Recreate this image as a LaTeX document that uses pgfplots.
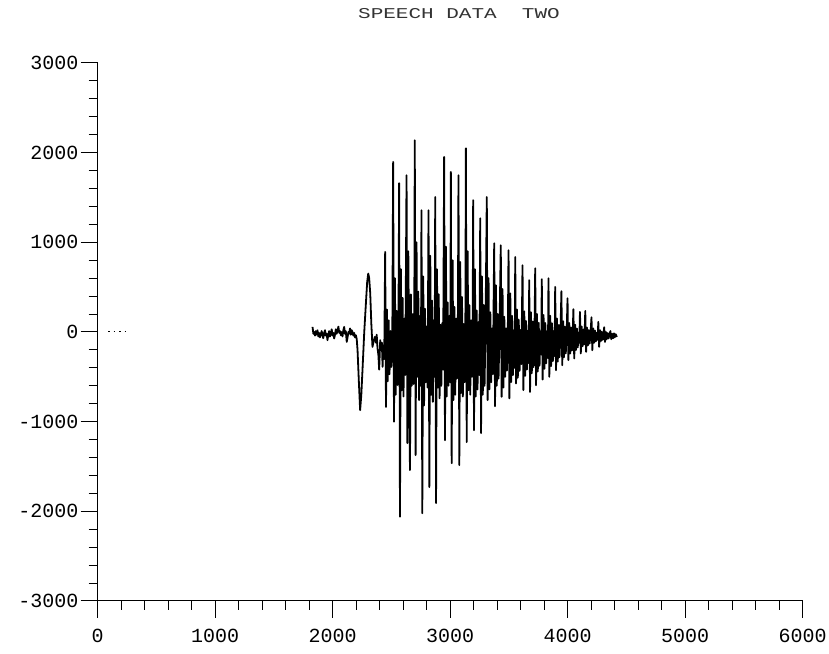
\documentclass[border=0pt]{standalone}
\usepackage{graphicx}
\usepackage{fontspec}
\usepackage{pgfplots}
\pgfplotsset{compat=1.18}
\newfontfamily\monofont{Liberation Mono}
\begin{document}
\begin{tikzpicture}[x=1pt,y=1pt]
\useasboundingbox (0,0) rectangle (829,653);
\node[text=black!80, inner sep=0pt] at (459,639) {\scalebox{1.4}[1]{\monofont\fontsize{15}{15}\selectfont SPEECH DATA\ \ TWO}};
\begin{axis}[
  at={(83,58)}, anchor=south west,
  scale only axis, width=705pt, height=538pt,
  xmin=0, xmax=6000, ymin=-3000, ymax=3000,
  axis lines=left, axis line style={-, line width=1pt, black},
  xtick={0,1000,...,6000}, ytick={-3000,-2000,...,3000},
  minor x tick num=4, minor y tick num=4,
  tick align=outside,
  major tick length=17pt, minor tick length=9pt,
  every tick/.style={black, line width=1pt},
  xticklabels={0,1000,2000,3000,4000,5000,6000},
  yticklabels={-3000,-2000,-1000,0,1000,2000,3000},
  ticklabel style={font=\monofont\fontsize{20}{20}\selectfont},
  xticklabel style={yshift=-8pt},
  yticklabel style={xshift=1.5pt},
  clip=false,
]
\addplot[black, line width=1pt, dash pattern=on 1.5pt off 4pt] coordinates {(90,0) (240,0)};
\addplot[black, line width=1.8pt, line join=round, mark=none] coordinates {
(1830,57)(1837,-20)(1844,0)(1851,-40)(1858,10)(1865,-30)(1872,20)(1879,-50)(1886,-10)(1893,-60)(1900,-36)(1907,10)(1914,-20)(1921,-70)(1929,-10)(1936,20)(1943,-40)(1950,-20)(1957,-91)(1964,-30)(1971,10)(1978,-50)(1986,-17)(1993,30)(2000,-40)(2007,-10)(2014,-72)(2021,-30)(2028,30)(2035,-20)(2043,20)(2050,60)(2057,-10)(2064,10)(2071,-36)(2078,0)(2085,-50)(2092,20)(2099,57)(2106,-20)(2113,10)(2121,-110)(2128,-60)(2135,0)(2142,-17)(2149,40)(2156,-30)(2163,20)(2170,0)(2177,-40)(2184,-10)(2191,-60)(2199,-36)(2206,-80)(2213,-203)(2224,-550)(2235,-872)(2245,-700)(2255,-426)(2270,0)(2284,318)(2295,560)(2304,652)(2312,600)(2321,429)(2330,100)(2340,-166)(2350,-100)(2360,-55)(2370,-120)(2376,-30)(2383,-184)(2390,-250)(2397,-420)(2406,-91)(2413,-200)(2420,-120)(2426,-389)(2433,-150)(2440,-300)
(2448,893)(2455,-835)(2463,250)(2470,-550)(2478,130)(2485,-470)(2493,10)(2500,-390)(2508,-250)
(2516,1897)(2523,-1000)(2531,600)(2538,-700)(2546,235)(2553,-590)(2561,70)
(2567,1659)(2574,-2061)(2582,700)(2589,-650)(2597,380)(2604,-720)(2612,150)(2619,-480)
(2630,1748)(2637,-1240)(2645,900)(2652,-300)(2659,-1540)(2667,420)(2674,-600)(2682,200)(2689,-580)(2695,-250)
(2700,2138)(2707,-1373)(2715,1000)(2722,-500)(2730,450)(2737,-760)(2745,180)(2752,-600)
(2757,1358)(2764,-2022)(2772,620)(2779,-820)(2787,260)(2794,-560)(2802,60)(2809,-620)
(2817,1358)(2824,-1730)(2832,850)(2839,-700)(2847,350)(2854,-780)(2862,130)(2869,-500)
(2874,1506)(2881,-1908)(2889,700)(2896,-620)(2904,420)(2911,-740)(2919,80)(2926,-600)(2934,100)(2941,-420)
(2950,1952)(2957,-1206)(2965,950)(2972,-720)(2980,330)(2987,-600)(2995,180)(3002,-560)
(3007,1785)(3014,-1463)(3022,800)(3029,-760)(3037,280)(3044,-700)(3052,150)(3059,-520)(3066,-120)
(3072,1748)(3079,-1485)(3087,780)(3094,-680)(3102,390)(3109,-720)(3117,90)(3124,-560)(3130,-160)
(3135,2049)(3142,-1228)(3150,900)(3157,-650)(3165,300)(3172,-700)(3180,130)(3187,-500)(3192,-180)
(3197,1470)(3204,-1095)(3212,700)(3219,-720)(3227,240)(3234,-640)(3242,110)(3249,-480)
(3257,1268)(3264,-1128)(3272,620)(3279,-700)(3287,300)(3294,-600)(3302,60)
(3313,1506)(3320,-760)(3328,600)(3335,-640)(3343,220)(3350,-560)(3358,40)(3365,-470)
(3376,990)(3383,-827)(3391,520)(3398,-600)(3406,200)(3413,-520)(3421,30)
(3432,968)(3439,-723)(3447,480)(3454,-620)(3462,170)(3469,-500)(3477,40)(3484,-430)(3491,-120)
(3498,912)(3505,-741)(3513,430)(3520,-560)(3528,180)(3535,-480)(3543,20)(3550,-400)
(3555,837)(3562,-574)(3570,250)(3577,-510)(3585,136)(3592,-434)(3600,22)(3607,-358)
(3617,745)(3624,-649)(3632,230)(3639,-490)(3647,122)(3654,-418)(3662,14)(3669,-346)
(3674,578)(3681,-668)(3689,220)(3696,-460)(3704,118)(3711,-392)(3719,16)
(3725,711)(3732,-593)(3740,200)(3747,-440)(3755,104)(3762,-376)(3770,8)(3776,-250)
(3781,589)(3788,-530)(3796,190)(3803,-410)(3811,100)(3818,-350)(3826,10)(3833,-290)
(3838,600)(3845,-500)(3853,180)(3860,-380)(3868,96)(3875,-324)(3883,12)(3890,-268)
(3895,503)(3902,-426)(3910,150)(3917,-330)(3925,78)(3932,-282)(3940,6)
(3948,455)(3955,-370)(3963,120)(3970,-280)(3978,60)(3985,-240)(3993,0)
(4000,377)(4007,-314)(4015,100)(4022,-240)(4030,49)(4037,-206)(4044,-20)
(4050,254)(4057,-296)(4065,80)(4072,-200)(4080,38)(4087,-172)(4095,-4)(4100,-120)
(4106,224)(4113,-240)(4121,60)(4128,-160)(4136,27)(4143,-138)
(4151,235)(4158,-222)(4166,50)(4173,-150)(4181,20)(4188,-130)(4196,-10)
(4204,165)(4211,-203)(4219,40)(4226,-120)(4234,16)(4241,-104)(4249,-8)(4256,-88)
(4262,113)(4269,-166)(4277,20)(4284,-100)(4292,2)(4299,-88)(4306,-20)
(4312,53)(4319,-110)(4327,0)(4334,-80)(4342,-12)(4349,-72)(4357,-30)
(4365,10)(4372,-80)(4380,-20)(4387,-70)(4395,-15)(4402,-60)(4410,-25)(4420,-55)
};
\end{axis}
\end{tikzpicture}
\end{document}
